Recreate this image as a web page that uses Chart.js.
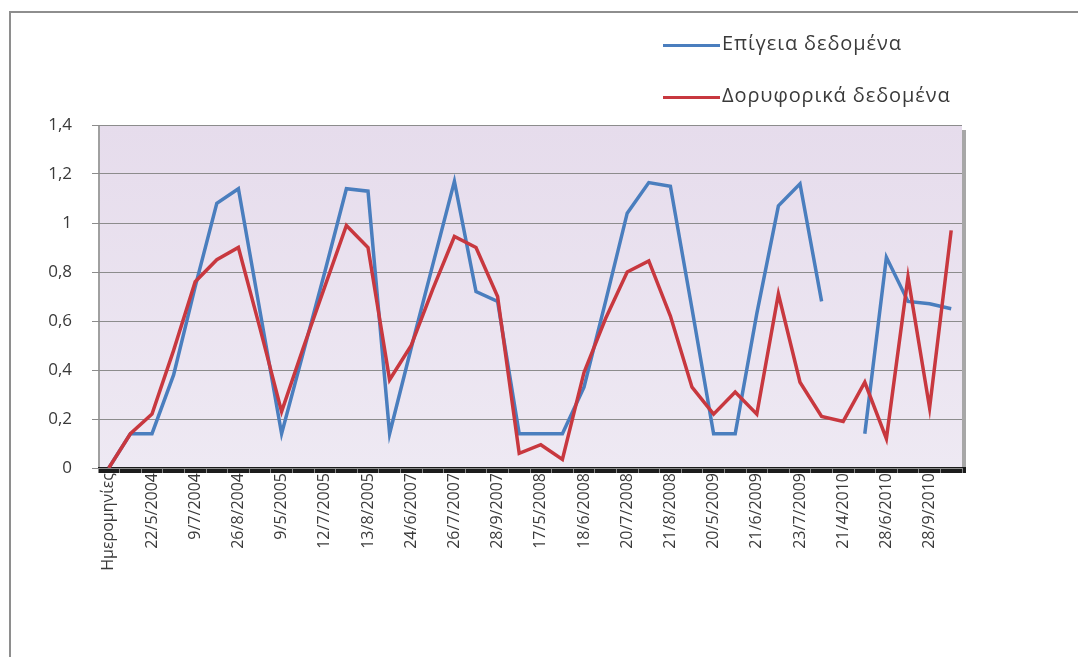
<!DOCTYPE html>
<html>
<head>
<meta charset="utf-8">
<script src="https://cdn.jsdelivr.net/npm/chart.js@4.4.1/dist/chart.umd.min.js"></script>
<style>
  html, body { margin: 0; padding: 0; background: #fff; overflow: hidden; }
  #wrap { position: relative; width: 1078px; height: 657px; overflow: hidden; }
  #frame { position: absolute; left: 9px; top: 11px; width: 1100px; height: 700px; border: 2px solid #8e8e8e; box-sizing: border-box; }
  #canvas { position: absolute; left: 0; top: 0; }
  .leg { position: absolute; left: 663px; height: 24px; font-family: "Open Sans", sans-serif; font-size: 20px; color: #3a3a3a; white-space: nowrap; }
  .leg span.ln { position: absolute; left: 0; top: 12px; width: 57px; height: 3px; }
  .leg span.tx { position: absolute; left: 59px; top: -3px; letter-spacing: 0.9px; }
</style>
</head>
<body>
<div id="wrap">
  <div id="frame"></div>
  <canvas id="canvas" width="1078" height="657"></canvas>
  <div id="legend"></div>
</div>
<script>
// Κατηγορίες (μόνο κάθε δεύτερη ετικέτα φαίνεται στο πρωτότυπο)
const categories = [
  'Ημερομηνίες', '', '22/5/2004', '', '9/7/2004', '', '26/8/2004', '', '9/5/2005', '',
  '12/7/2005', '', '13/8/2005', '', '24/6/2007', '', '26/7/2007', '', '28/9/2007', '',
  '17/5/2008', '', '18/6/2008', '', '20/7/2008', '', '21/8/2008', '', '20/5/2009', '',
  '21/6/2009', '', '23/7/2009', '', '21/4/2010', '', '28/6/2010', '', '28/9/2010', ''
];

// Επίγεια δεδομένα
const groundValues = [
  0, 0.14, 0.14, 0.38, 0.74, 1.08, 1.14, 0.64, 0.14, 0.47,
  0.80, 1.14, 1.13, 0.14, 0.49, 0.83, 1.17, 0.72, 0.68, 0.14,
  0.14, 0.14, 0.33, 0.68, 1.04, 1.165, 1.15, 0.65, 0.14, 0.14,
  0.63, 1.07, 1.16, 0.68, null, 0.14, 0.86, 0.68, 0.67, 0.65
];

// Δορυφορικά δεδομένα
const satelliteValues = [
  0, 0.14, 0.22, 0.48, 0.76, 0.85, 0.90, 0.57, 0.23, 0.49,
  0.74, 0.99, 0.90, 0.36, 0.50, 0.73, 0.945, 0.90, 0.70, 0.06,
  0.095, 0.035, 0.39, 0.61, 0.80, 0.845, 0.62, 0.33, 0.22, 0.31,
  0.22, 0.71, 0.35, 0.21, 0.19, 0.35, 0.12, 0.78, 0.245, 0.97
];

const yTicks = [0, 0.2, 0.4, 0.6, 0.8, 1, 1.2, 1.4];

const seriesNames = ['Επίγεια δεδομένα', 'Δορυφορικά δεδομένα'];
const seriesColors = ['#4a7ebe', '#c8383f'];

const xFont = { family: '"Open Sans", sans-serif', size: 16 };
const yFont = { family: '"Open Sans", sans-serif', size: 17 };

// Φόντο περιοχής σχεδίασης, σκιά και χοντρή γραμμή άξονα
const plotBg = {
  id: 'plotBg',
  beforeDraw(chart) {
    const { ctx, chartArea: a } = chart;
    ctx.save();
    ctx.fillStyle = 'rgba(60,60,60,0.45)';
    ctx.fillRect(a.right, a.top + 5, 4, a.bottom - a.top);
    const g = ctx.createLinearGradient(0, a.top, 0, a.bottom);
    g.addColorStop(0, '#e6dcec');
    g.addColorStop(1, '#eee9f3');
    ctx.fillStyle = g;
    ctx.fillRect(a.left, a.top, a.right - a.left, a.bottom - a.top);
    ctx.fillStyle = '#a0a0a0';
    ctx.fillRect(a.left, a.top, 2, a.bottom - a.top);
    ctx.fillStyle = '#1c1c1c';
    ctx.fillRect(a.left, a.bottom - 1, a.right - a.left + 4, 6);
    ctx.restore();
  }
};

const data = {
  labels: categories,
  datasets: [
    {
      label: seriesNames[0],
      data: groundValues,
      borderColor: seriesColors[0],
      backgroundColor: seriesColors[0],
      borderWidth: 3.5,
      pointRadius: 0,
      tension: 0,
      spanGaps: false,
      order: 1,
    },
    {
      label: seriesNames[1],
      data: satelliteValues,
      borderColor: seriesColors[1],
      backgroundColor: seriesColors[1],
      borderWidth: 3.5,
      pointRadius: 0,
      tension: 0,
      order: 0,
    },
  ],
};

const config = {
  type: 'line',
  data: data,
  plugins: [plotBg],
  options: {
    responsive: false,
    animation: false,
    layout: { padding: { left: 0, top: 125, right: 116, bottom: 0 } },
    plugins: { legend: { display: false }, tooltip: { enabled: false } },
    scales: {
      x: {
        offset: true,
        grid: { display: true, offset: true, drawOnChartArea: false, drawTicks: true, tickLength: 5, color: '#8a8a8a' },
        border: { display: false },
        ticks: {
          autoSkip: false, minRotation: 90, maxRotation: 90, padding: 0,
          font: xFont, color: '#3a3a3a',
          callback: (v, i) => categories[i],
        },
        afterFit: s => { s.height = 189; },
      },
      y: {
        min: 0, max: 1.4,
        afterBuildTicks: s => { s.ticks = yTicks.map(v => ({ value: v })); },
        grid: { color: '#8c8c8c', tickLength: 6, drawTicks: true },
        border: { display: false },
        ticks: {
          padding: 20, font: yFont, color: '#3a3a3a',
          callback: v => String(Math.round(v * 10) / 10).replace('.', ','),
        },
        afterFit: s => { s.width = 98; },
      },
    },
  },
};

const canvas = document.getElementById('canvas');
const chart = new Chart(canvas, config);

// Υπόμνημα
const legend = document.getElementById('legend');
const legendTops = [32, 84];
seriesNames.forEach((name, i) => {
  const d = document.createElement('div');
  d.className = 'leg';
  d.style.top = legendTops[i] + 'px';
  d.innerHTML = '<span class="ln" style="background:' + seriesColors[i] + '"></span><span class="tx">' + name + '</span>';
  legend.appendChild(d);
});
</script>
</body>
</html>
